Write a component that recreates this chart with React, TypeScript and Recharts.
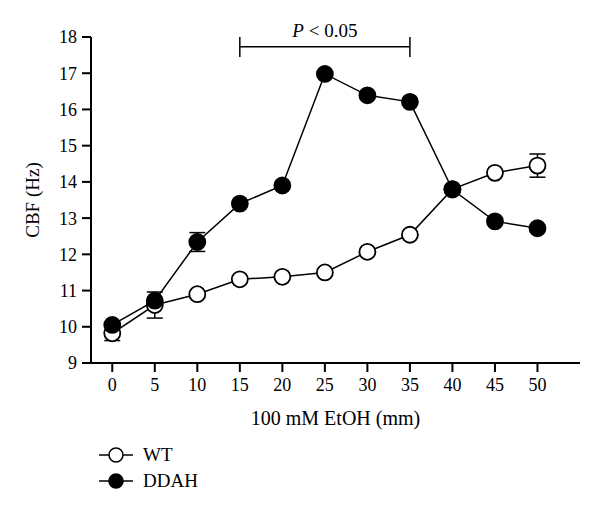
import React from 'react';
import { LineChart, Line, XAxis, YAxis, ErrorBar, ReferenceLine, Legend } from 'recharts';

const doses = [0, 5, 10, 15, 20, 25, 30, 35, 40, 45, 50];
const seriesNames = ['WT', 'DDAH'];
const wtValues = [9.82, 10.6, 10.9, 11.31, 11.38, 11.5, 12.07, 12.54, 13.8, 14.25, 14.45];
const wtErrors = [0.2, 0.36, null, null, null, null, null, null, null, null, 0.32];
const ddahValues = [10.05, 10.72, 12.34, 13.4, 13.9, 16.98, 16.39, 16.21, 13.79, 12.91, 12.72];
const ddahErrors = [null, null, 0.26, null, null, null, null, null, null, null, null];
const yTicks = [9, 10, 11, 12, 13, 14, 15, 16, 17, 18];
const sigRange = [15, 35];
const sigLevel = 17.73;
const sigCapBottom = 17.45;
const sigText = '< 0.05';

const FONT = '"Liberation Serif", "DejaVu Serif", serif';

const data = doses.map((dose, i) => ({
    dose,
    wt: wtValues[i],
    wtErr: wtErrors[i],
    ddah: ddahValues[i],
    ddahErr: ddahErrors[i],
}));

const SigLabel = (props: any) => {
    const { viewBox } = props;
    const cx = viewBox.x + viewBox.width / 2;
    return (
        <text x={cx} y={viewBox.y - 10} textAnchor="middle" fontFamily={FONT} fontSize={19} fill="#000">
            <tspan fontStyle="italic">P</tspan> {sigText}
        </text>
    );
};

const YLabel = (props: any) => {
    const { viewBox } = props;
    const x = 32;
    const y = viewBox.y + viewBox.height / 2;
    return (
        <text x={x} y={y} transform={`rotate(-90, ${x}, ${y})`} textAnchor="middle" dominantBaseline="central" fontFamily={FONT} fontSize={19} fill="#000" style={{ fill: '#000' }}>
            CBF (Hz)
        </text>
    );
};

const LegendContent = (props: any) => {
    const items = seriesNames
        .map((name) => (props.payload || []).find((p: any) => p.value === name))
        .filter(Boolean);
    return (
        <div style={{ fontFamily: FONT, fontSize: 19, color: '#000' }}>
            {items.map((entry: any) => (
                <div key={entry.value} style={{ display: 'flex', alignItems: 'center', height: 26 }}>
                    <svg width={34} height={20} style={{ marginRight: 10 }}>
                        <line x1={0} y1={10} x2={34} y2={10} stroke="#000" strokeWidth={1.5} />
                        <circle cx={17} cy={10} r={7} fill={entry.value === 'WT' ? '#fff' : '#000'} stroke="#000" strokeWidth={1.5} />
                    </svg>
                    <span>{entry.value}</span>
                </div>
            ))}
        </div>
    );
};

const App: React.FC = () => {
    return (
        <div style={{ width: 600, height: 515, position: 'absolute', left: 0, top: 0 }}>
            <LineChart width={600} height={515} data={data} margin={{ top: 37, right: 20, left: 0, bottom: 122 }}>
                <XAxis
                    dataKey="dose"
                    type="number"
                    domain={[-2.5, 55]}
                    ticks={doses}
                    height={30}
                    tickSize={9}
                    tickMargin={6}
                    stroke="#000"
                    strokeWidth={2}
                    tick={{ fill: '#000', fontFamily: FONT, fontSize: 18 }}
                    label={{ value: '100 mM EtOH (mm)', position: 'bottom', offset: 18, fill: '#000', fontFamily: FONT, fontSize: 20 }}
                />
                <YAxis
                    type="number"
                    domain={[9, 18]}
                    ticks={yTicks}
                    width={91}
                    tickSize={9}
                    tickMargin={5}
                    stroke="#000"
                    strokeWidth={2}
                    tick={{ fill: '#000', fontFamily: FONT, fontSize: 18 }}
                    label={<YLabel />}
                />
                <ReferenceLine
                    segment={[{ x: sigRange[0], y: sigLevel }, { x: sigRange[1], y: sigLevel }]}
                    stroke="#000"
                    strokeWidth={1.5}
                    ifOverflow="visible"
                    label={<SigLabel />}
                />
                <ReferenceLine
                    segment={[{ x: sigRange[0], y: sigCapBottom }, { x: sigRange[0], y: 18 }]}
                    stroke="#000"
                    strokeWidth={1.5}
                    ifOverflow="visible"
                />
                <ReferenceLine
                    segment={[{ x: sigRange[1], y: sigCapBottom }, { x: sigRange[1], y: 18 }]}
                    stroke="#000"
                    strokeWidth={1.5}
                    ifOverflow="visible"
                />
                {/* error bars first so the markers sit on top */}
                <Line dataKey="wt" stroke="none" dot={false} activeDot={false} legendType="none" isAnimationActive={false}>
                    <ErrorBar dataKey="wtErr" direction="y" width={8} stroke="#000" strokeWidth={1.5} />
                </Line>
                <Line dataKey="ddah" stroke="none" dot={false} activeDot={false} legendType="none" isAnimationActive={false}>
                    <ErrorBar dataKey="ddahErr" direction="y" width={8} stroke="#000" strokeWidth={1.5} />
                </Line>
                <Line
                    type="linear"
                    dataKey="wt"
                    name="WT"
                    stroke="#000"
                    strokeWidth={1.5}
                    dot={{ r: 8, fill: '#fff', stroke: '#000', strokeWidth: 1.8 }}
                    activeDot={false}
                    isAnimationActive={false}
                />
                <Line
                    type="linear"
                    dataKey="ddah"
                    name="DDAH"
                    stroke="#000"
                    strokeWidth={1.5}
                    dot={{ r: 8, fill: '#000', stroke: '#000', strokeWidth: 1.8 }}
                    activeDot={false}
                    isAnimationActive={false}
                />
                <Legend
                    content={<LegendContent />}
                    layout="horizontal"
                    verticalAlign="middle"
                    wrapperStyle={{ position: 'absolute', left: 99, top: 442, width: 'auto', bottom: 'auto' }}
                />
            </LineChart>
        </div>
    );
};

export default App;
